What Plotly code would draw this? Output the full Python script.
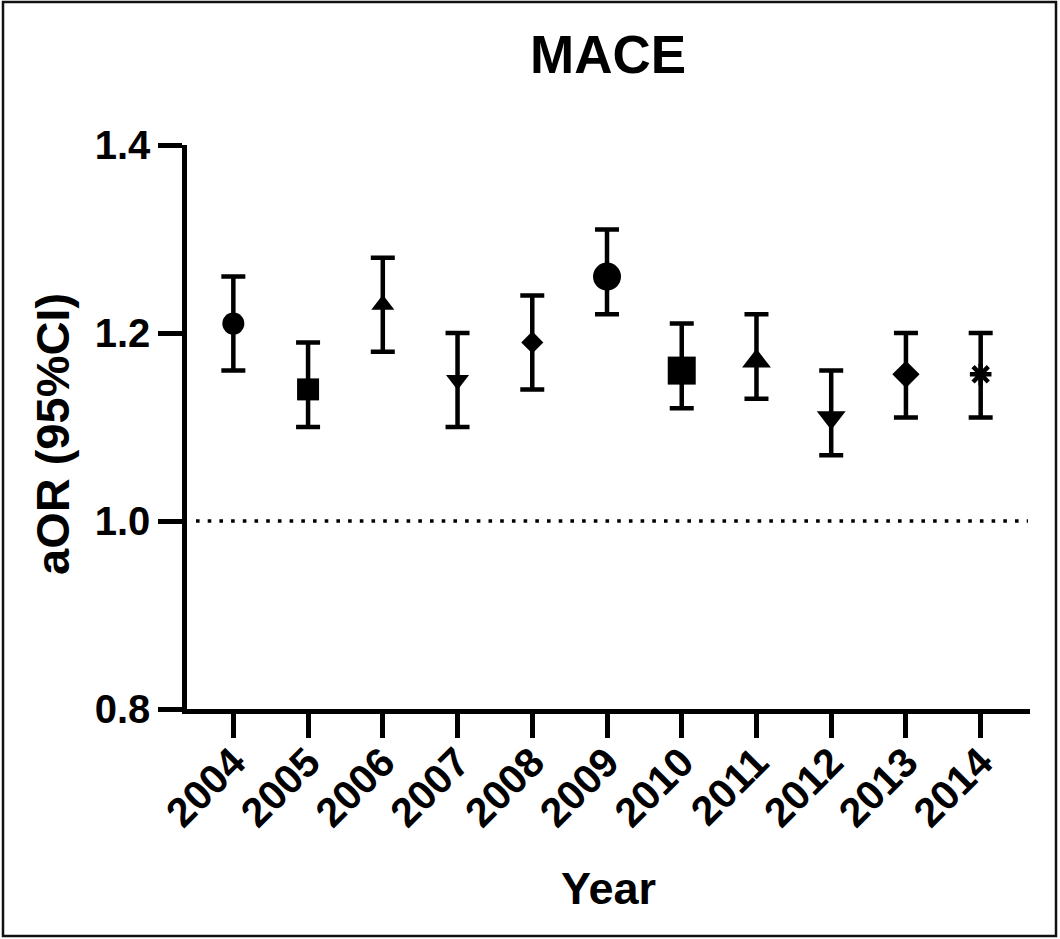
import plotly.graph_objects as go

# Adjusted odds ratio of MACE by year, with 95% confidence limits
years = [2004, 2005, 2006, 2007, 2008, 2009, 2010, 2011, 2012, 2013, 2014]
aor = [1.21, 1.14, 1.23, 1.15, 1.19, 1.26, 1.16, 1.17, 1.11, 1.156, 1.156]
ci_low = [1.16, 1.10, 1.18, 1.10, 1.14, 1.22, 1.12, 1.13, 1.07, 1.11, 1.11]
ci_high = [1.26, 1.19, 1.28, 1.20, 1.24, 1.31, 1.21, 1.22, 1.16, 1.20, 1.20]

symbols = ["circle", "square", "triangle-up", "triangle-down", "diamond",
           "circle", "square", "triangle-up", "triangle-down", "diamond",
           "asterisk-open"]
sizes = [22, 22, 20, 20, 17, 28, 28, 25, 25, 21, 18]
outline = [0, 0, 0, 0, 0, 0, 0, 0, 0, 0, 4.5]

y_tickvals = [0.8, 1.0, 1.2, 1.4]
y_ticktext = ["0.8", "1.0", "1.2", "1.4"]

FONT = "Liberation Sans, Arial, Helvetica, sans-serif"

err_plus = [h - v for h, v in zip(ci_high, aor)]
err_minus = [v - l for v, l in zip(aor, ci_low)]

fig = go.Figure()
fig.add_trace(go.Scatter(
    x=years, y=aor, mode="markers",
    marker=dict(symbol=symbols, size=sizes, color="black", opacity=1,
                line=dict(width=outline, color="black")),
    error_y=dict(type="data", symmetric=False, array=err_plus,
                 arrayminus=err_minus, color="black", thickness=4.5, width=12),
    showlegend=False,
))

W, H = 1060, 939
L, R, T, B = 187, 30, 145, 230
pw, ph = W - L - R, H - T - B

def px_x(p):
    return (p - L) / pw

def px_y(p):
    return (H - B - p) / ph

# reference line at aOR = 1
fig.add_shape(type="line", xref="paper", yref="y",
              x0=px_x(196), x1=px_x(1028), y0=1.0, y1=1.0,
              line=dict(color="black", width=3.6, dash="3.6px,8.1px"))

# frame around the whole figure
fig.add_shape(type="rect", xref="paper", yref="paper",
              x0=px_x(3), x1=px_x(1056), y0=px_y(936), y1=px_y(2),
              line=dict(color="#111111", width=2.5), layer="above")

fig.add_annotation(text="<b>MACE</b>", xref="paper", yref="paper",
                   x=px_x(608), y=px_y(54), showarrow=False,
                   xanchor="center", yanchor="middle",
                   font=dict(family=FONT, size=53, color="black"))
fig.add_annotation(text="<b>Year</b>", xref="paper", yref="paper",
                   x=px_x(608), y=px_y(888), showarrow=False,
                   xanchor="center", yanchor="middle",
                   font=dict(family=FONT, size=45, color="black"))
fig.add_annotation(text="<b>aOR (95%CI)</b>", xref="paper", yref="paper",
                   x=px_x(52), y=px_y(434), showarrow=False, textangle=-90,
                   xanchor="center", yanchor="middle",
                   font=dict(family=FONT, size=47, color="black"))

axis_common = dict(showline=True, linecolor="black", linewidth=4.5,
                   ticks="outside", ticklen=24, tickwidth=4.5,
                   tickcolor="black", showgrid=False, zeroline=False,
                   mirror=False)

fig.update_xaxes(range=[2003.38, 2014.66], tickvals=years,
                 ticktext=[str(y) for y in years], tickangle=-45,
                 ticklabelstandoff=-16,
                 tickfont=dict(family=FONT, size=41, color="black", weight="bold"),
                 **axis_common)
fig.update_yaxes(range=[0.8, 1.4], tickvals=y_tickvals, ticktext=y_ticktext,
                 tickfont=dict(family=FONT, size=40, color="black", weight="bold"),
                 **axis_common)

fig.update_layout(width=W, height=H, margin=dict(l=L, r=R, t=T, b=B),
                  paper_bgcolor="white", plot_bgcolor="white")

fig.write_html("out.html")
